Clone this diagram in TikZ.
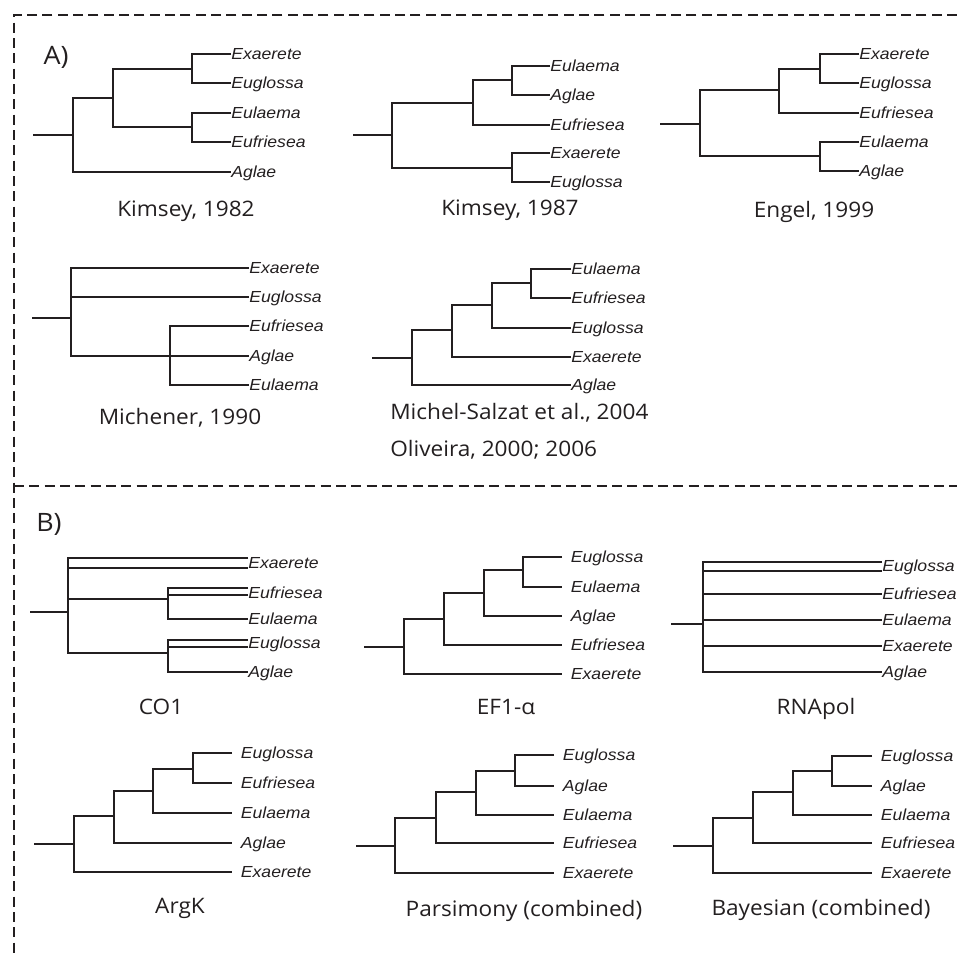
\documentclass[tikz,border=0pt]{standalone}
\usepackage{fontspec}
\newfontfamily\GenusFont[FakeStretch=1.1]{Liberation Sans}
\newfontfamily\CaptionFont[FakeStretch=1.06]{Open Sans}
\definecolor{TreeClr}{rgb}{0.137,0.122,0.125}

\begin{document}
\begin{tikzpicture}[x=0.75pt,y=-0.75pt,
  branch/.style={line width=1.8pt,color=TreeClr},
  frame/.style={line width=1.5pt,color=TreeClr,dash pattern=on 7.5pt off 4pt},
  genus/.style={anchor=west,inner sep=0pt,text height=8.6pt,text depth=0pt,text=TreeClr,
    font=\GenusFont\itshape\fontsize{12}{14}\selectfont},
  genusgap/.style={genus,inner xsep=6.5pt},
  caption/.style={inner sep=0pt,text height=11.4pt,text depth=0pt,text=TreeClr,
    font=\CaptionFont\fontsize{16}{19}\selectfont},
  panel/.style={caption,text height=13.6pt,font=\CaptionFont\fontsize{19}{22}\selectfont}]
\useasboundingbox (0,0) rectangle (957,958);

\draw[frame] (957,15) -- (14,15) -- (14,958);
\draw[frame] (14,486) -- (957,486);

\node[panel] (PanelA) at (56,55) {A)};
\node[panel] (PanelB) at (49,522) {B)};

% Kimsey, 1982
\foreach \n/\x/\y in {kaR/33/135,kaN0/73/135,kaN1/113/98,kaN2/192/69,kaN3/192/127}
  \coordinate (\n) at (\x,\y);
\foreach \n/\y/\t in {kaEx/54/Exaerete,kaEg/83/Euglossa,kaEa/113/Eulaema,kaEf/142/Eufriesea,kaAg/172/Aglae}
  \node[genus] (\n) at (231,\y) {\t};
\draw[branch] (kaR) -- (kaN0);
\draw[branch] (kaN1) -| (kaN0) |- (kaAg.west);
\draw[branch] (kaN2) -| (kaN1) |- (kaN3);
\draw[branch] (kaEx.west) -| (kaN2) |- (kaEg.west);
\draw[branch] (kaEa.west) -| (kaN3) |- (kaEf.west);
\node[caption] (kaCap) at (186,209) {Kimsey, 1982};

% Kimsey, 1987
\foreach \n/\x/\y in {kbR/353/135,kbN0/392/135,kbN1/473/103,kbN2/512/80,kbN3/512/168}
  \coordinate (\n) at (\x,\y);
\foreach \n/\y/\t in {kbEa/66/Eulaema,kbAg/95/Aglae,kbEf/125/Eufriesea,kbEx/153/Exaerete,kbEg/182/Euglossa}
  \node[genus] (\n) at (550,\y) {\t};
\draw[branch] (kbR) -- (kbN0);
\draw[branch] (kbN1) -| (kbN0) |- (kbN3);
\draw[branch] (kbN2) -| (kbN1) |- (kbEf.west);
\draw[branch] (kbEa.west) -| (kbN2) |- (kbAg.west);
\draw[branch] (kbEx.west) -| (kbN3) |- (kbEg.west);
\node[caption] (kbCap) at (510,208) {Kimsey, 1987};

% Engel, 1999
\foreach \n/\x/\y in {enR/660/124,enN0/700/124,enN1/779/90,enN2/820/69,enN3/820/156}
  \coordinate (\n) at (\x,\y);
\foreach \n/\y/\t in {enEx/54/Exaerete,enEg/83/Euglossa,enEf/113/Eufriesea,enEa/142/Eulaema,enAg/171/Aglae}
  \node[genus] (\n) at (859,\y) {\t};
\draw[branch] (enR) -- (enN0);
\draw[branch] (enN1) -| (enN0) |- (enN3);
\draw[branch] (enN2) -| (enN1) |- (enEf.west);
\draw[branch] (enEx.west) -| (enN2) |- (enEg.west);
\draw[branch] (enEa.west) -| (enN3) |- (enAg.west);
\node[caption] (enCap) at (814,210) {Engel, 1999};

% Michener, 1990
\foreach \n/\x/\y in {miR/32/318,miN0/71/318,miN1/170/356}
  \coordinate (\n) at (\x,\y);
\foreach \n/\y/\t in {miEx/268/Exaerete,miEg/297/Euglossa,miEf/326/Eufriesea,miAg/356/Aglae,miEa/385/Eulaema}
  \node[genus] (\n) at (249,\y) {\t};
\draw[branch] (miR) -- (miN0);
\draw[branch] (miEx.west) -| (miN0) |- (miAg.west);
\draw[branch] (miEg.west -| miN0) -- (miEg.west);
\draw[branch] (miEf.west) -| (miN1) |- (miEa.west);
\node[caption] (miCap) at (180,417) {Michener, 1990};

% Michel-Salzat / Oliveira
\foreach \n/\x/\y in {msR/372/358,msN0/412/358,msN1/452/330,msN2/492/305,msN3/531/283}
  \coordinate (\n) at (\x,\y);
\foreach \n/\y/\t in {msEa/269/Eulaema,msEf/298/Eufriesea,msEg/328/Euglossa,msEx/357/Exaerete,msAg/385/Aglae}
  \node[genus] (\n) at (571,\y) {\t};
\draw[branch] (msR) -- (msN0);
\draw[branch] (msN1) -| (msN0) |- (msAg.west);
\draw[branch] (msN2) -| (msN1) |- (msEx.west);
\draw[branch] (msN3) -| (msN2) |- (msEg.west);
\draw[branch] (msEa.west) -| (msN3) |- (msEf.west);
\node[caption,anchor=west] (msCapA) at (390,412) {Michel-Salzat et al., 2004};
\node[caption,anchor=west] (msCapB) at (390,449) {Oliveira, 2000; 2006};

% CO1
\foreach \n/\x/\y in {coR/30/612,coN0/68/612,coN1/168/599,coN2/168/653,
    coX1/248/558,coX2/248/568,coF1/248/588,coF2/248/595,coG1/248/640,coG2/248/647}
  \coordinate (\n) at (\x,\y);
\foreach \n/\y/\t in {coEx/563/Exaerete,coEf/593/Eufriesea,coEa/619/Eulaema,coEg/643/Euglossa,coAg/672/Aglae}
  \node[genus] (\n) at (248,\y) {\t};
\draw[branch] (coR) -- (coN0);
\draw[branch] (coX1) -| (coN0) |- (coN2);
\draw[branch] (coX2 -| coN0) -- (coX2);
\draw[branch] (coN0) |- (coN1);
\draw[branch] (coF1) -| (coN1) |- (coEa.west);
\draw[branch] (coF2 -| coN1) -- (coF2);
\draw[branch] (coG1) -| (coN2) |- (coAg.west);
\draw[branch] (coG2 -| coN2) -- (coG2);
\node[caption] (coCap) at (161,707) {CO1};

% EF1-alpha
\foreach \n/\x/\y in {efR/364/647,efN0/404/647,efN1/444/619,efN2/484/593,efN3/523/570}
  \coordinate (\n) at (\x,\y);
\foreach \n/\y/\t in {efEg/557/Euglossa,efEa/587/Eulaema,efAg/616/Aglae,efEf/645/Eufriesea,efEx/674/Exaerete}
  \node[genusgap] (\n) at (562,\y) {\t};
\draw[branch] (efR) -- (efN0);
\draw[branch] (efN1) -| (efN0) |- (efEx.west);
\draw[branch] (efN2) -| (efN1) |- (efEf.west);
\draw[branch] (efN3) -| (efN2) |- (efAg.west);
\draw[branch] (efEg.west) -| (efN3) |- (efEa.west);
\node[caption] (efCap) at (506,707) {EF1-α};

% RNApol
\foreach \n/\x/\y in {rnR/671/624,rnN0/703/624,rnG1/882/562,rnG2/882/571}
  \coordinate (\n) at (\x,\y);
\foreach \n/\y/\t in {rnEg/566/Euglossa,rnEf/594/Eufriesea,rnEa/620/Eulaema,rnEx/646/Exaerete,rnAg/672/Aglae}
  \node[genus] (\n) at (882,\y) {\t};
\draw[branch] (rnR) -- (rnN0);
\draw[branch] (rnG1) -| (rnN0) |- (rnAg.west);
\draw[branch] (rnG2 -| rnN0) -- (rnG2);
\draw[branch] (rnEf.west -| rnN0) -- (rnEf.west);
\draw[branch] (rnEa.west -| rnN0) -- (rnEa.west);
\draw[branch] (rnEx.west -| rnN0) -- (rnEx.west);
\node[caption] (rnCap) at (816,707) {RNApol};

% ArgK
\foreach \n/\x/\y in {arR/34/844,arN0/74/844,arN1/114/816,arN2/153/791,arN3/193/769}
  \coordinate (\n) at (\x,\y);
\foreach \n/\y/\t in {arEg/753/Euglossa,arEf/783/Eufriesea,arEa/813/Eulaema,arAg/843/Aglae,arEx/872/Exaerete}
  \node[genusgap] (\n) at (232,\y) {\t};
\draw[branch] (arR) -- (arN0);
\draw[branch] (arN1) -| (arN0) |- (arEx.west);
\draw[branch] (arN2) -| (arN1) |- (arAg.west);
\draw[branch] (arN3) -| (arN2) |- (arEa.west);
\draw[branch] (arEg.west) -| (arN3) |- (arEf.west);
\node[caption] (arCap) at (180,906) {ArgK};

% Parsimony
\foreach \n/\x/\y in {paR/356/846,paN0/395/846,paN1/436/818,paN2/476/792,paN3/515/771}
  \coordinate (\n) at (\x,\y);
\foreach \n/\y/\t in {paEg/755/Euglossa,paAg/786/Aglae,paEa/815/Eulaema,paEf/843/Eufriesea,paEx/873/Exaerete}
  \node[genusgap] (\n) at (554,\y) {\t};
\draw[branch] (paR) -- (paN0);
\draw[branch] (paN1) -| (paN0) |- (paEx.west);
\draw[branch] (paN2) -| (paN1) |- (paEf.west);
\draw[branch] (paN3) -| (paN2) |- (paEa.west);
\draw[branch] (paEg.west) -| (paN3) |- (paAg.west);
\node[caption] (paCap) at (524,909) {Parsimony (combined)};

% Bayesian
\foreach \n/\x/\y in {baR/673/846,baN0/713/846,baN1/753/818,baN2/793/792,baN3/832/771}
  \coordinate (\n) at (\x,\y);
\foreach \n/\y/\t in {baEg/756/Euglossa,baAg/786/Aglae,baEa/815/Eulaema,baEf/843/Eufriesea,baEx/873/Exaerete}
  \node[genusgap] (\n) at (872,\y) {\t};
\draw[branch] (baR) -- (baN0);
\draw[branch] (baN1) -| (baN0) |- (baEx.west);
\draw[branch] (baN2) -| (baN1) |- (baEf.west);
\draw[branch] (baN3) -| (baN2) |- (baEa.west);
\draw[branch] (baEg.west) -| (baN3) |- (baAg.west);
\node[caption] (baCap) at (821,908) {Bayesian (combined)};

\end{tikzpicture}
\end{document}
